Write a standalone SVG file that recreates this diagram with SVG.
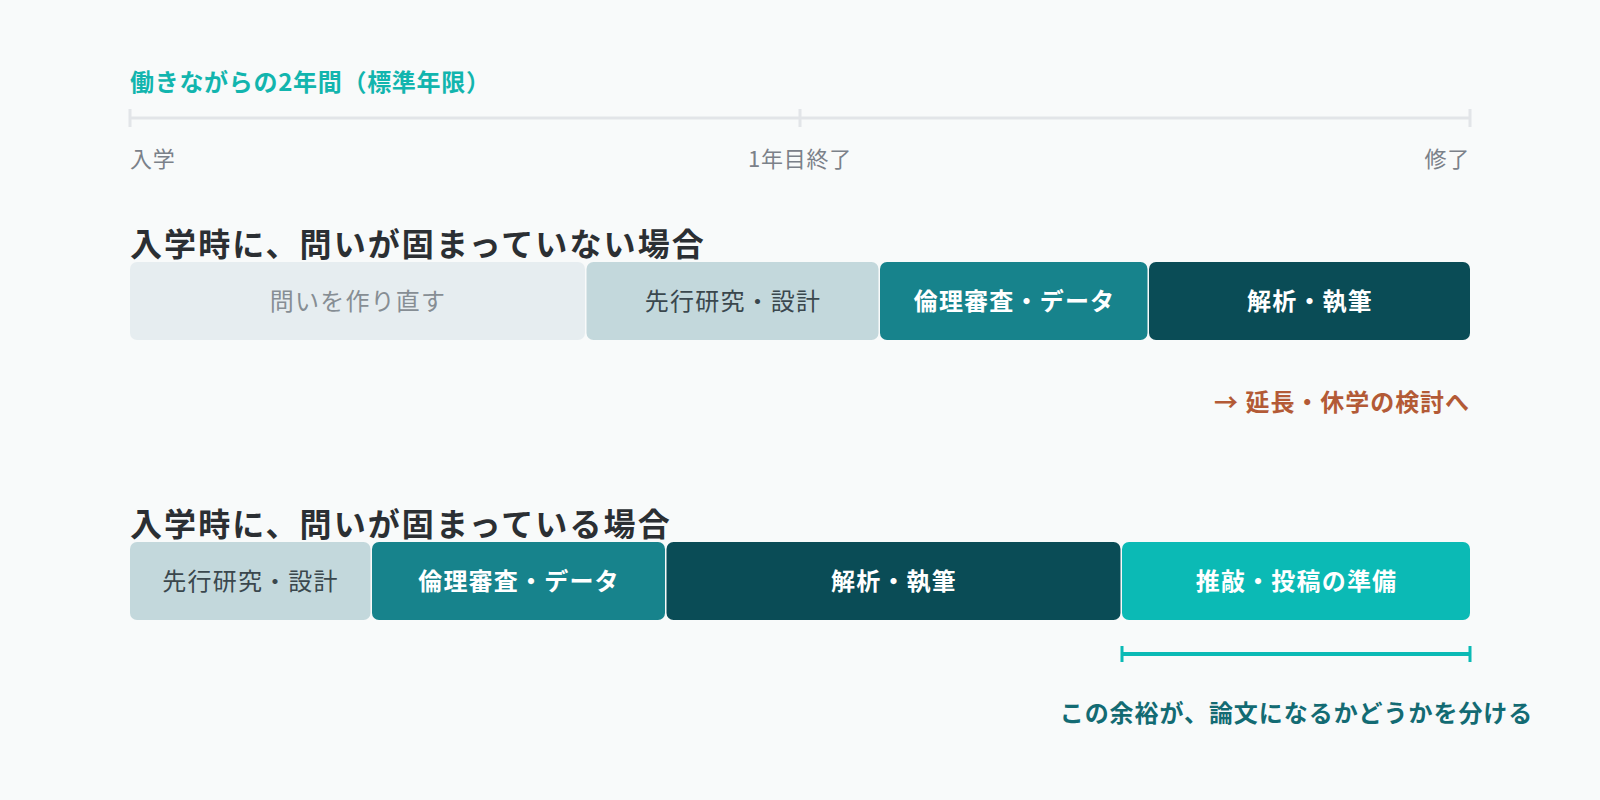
<svg xmlns="http://www.w3.org/2000/svg" width="1600" height="800" viewBox="0 0 1600 800">
<style>
text{font-family:"Noto Sans CJK JP","Noto Sans",sans-serif}
.title{font-size:24px;font-weight:700;fill:#12B5AE;letter-spacing:0.7px}
.lbl{font-size:22px;font-weight:400;fill:#7B8189;letter-spacing:0.8px}
.h{font-size:32px;font-weight:700;fill:#2B2F33;letter-spacing:2.1px}
.seg{font-size:24px;text-anchor:middle;letter-spacing:1.2px}
.w{fill:#FFFFFF;font-weight:700}
.note{font-size:24px;font-weight:700;letter-spacing:0.95px}
.tl{stroke:#E2E5E8;stroke-width:3;fill:none}
</style>
<rect x="0" y="0" width="1600" height="800" fill="#F8FAFA"/>
<g id="timeline">
<text class="title" x="130" y="91">働きながらの2年間（標準年限）</text>
<line class="tl" x1="130" y1="118" x2="1470" y2="118"/>
<line class="tl" x1="130" y1="109" x2="130" y2="127"/>
<line class="tl" x1="800" y1="109" x2="800" y2="127"/>
<line class="tl" x1="1470" y1="109" x2="1470" y2="127"/>
<text class="lbl" x="130" y="167">入学</text>
<text class="lbl" x="800" y="167" text-anchor="middle">1年目終了</text>
<text class="lbl" x="1470" y="167" text-anchor="end">修了</text>
</g>
<g id="case1">
<text class="h" x="130" y="256">入学時に、問いが固まっていない場合</text>
<g id="c1-rethink"><rect x="130" y="262" width="455" height="78" rx="7" fill="#E6EDF0"/><text class="seg" x="358" y="310" fill="#868E94">問いを作り直す</text></g>
<g id="c1-review"><rect x="586.5" y="262" width="292" height="78" rx="7" fill="#C3D8DC"/><text class="seg" x="733" y="310" fill="#3A474D">先行研究・設計</text></g>
<g id="c1-ethics"><rect x="880" y="262" width="267.5" height="78" rx="7" fill="#17838C"/><text class="seg w" x="1014.5" y="310">倫理審査・データ</text></g>
<g id="c1-analysis"><rect x="1149" y="262" width="321" height="78" rx="7" fill="#0A4C56"/><text class="seg w" x="1310" y="310">解析・執筆</text></g>
<text class="note" x="1470" y="411" text-anchor="end" fill="#B35A36">→ 延長・休学の検討へ</text>
</g>
<g id="case2">
<text class="h" x="130" y="536">入学時に、問いが固まっている場合</text>
<g id="c2-review"><rect x="130" y="542" width="240.5" height="78" rx="7" fill="#C3D8DC"/><text class="seg" x="250.5" y="590" fill="#3A474D">先行研究・設計</text></g>
<g id="c2-ethics"><rect x="372" y="542" width="293" height="78" rx="7" fill="#17838C"/><text class="seg w" x="519" y="590">倫理審査・データ</text></g>
<g id="c2-analysis"><rect x="666.5" y="542" width="454" height="78" rx="7" fill="#0A4C56"/><text class="seg w" x="894" y="590">解析・執筆</text></g>
<g id="c2-polish"><rect x="1122" y="542" width="348" height="78" rx="7" fill="#0BBAB5"/><text class="seg w" x="1296.5" y="590">推敲・投稿の準備</text></g>
</g>
<g id="connectors">
<line x1="1122" y1="654" x2="1470" y2="654" stroke="#0BBAB5" stroke-width="4"/>
<line x1="1122" y1="646" x2="1122" y2="662" stroke="#0BBAB5" stroke-width="3"/>
<line x1="1470" y1="646" x2="1470" y2="662" stroke="#0BBAB5" stroke-width="3"/>
</g>
<text class="note" x="1296.5" y="722" text-anchor="middle" fill="#136B73">この余裕が、論文になるかどうかを分ける</text>
</svg>
